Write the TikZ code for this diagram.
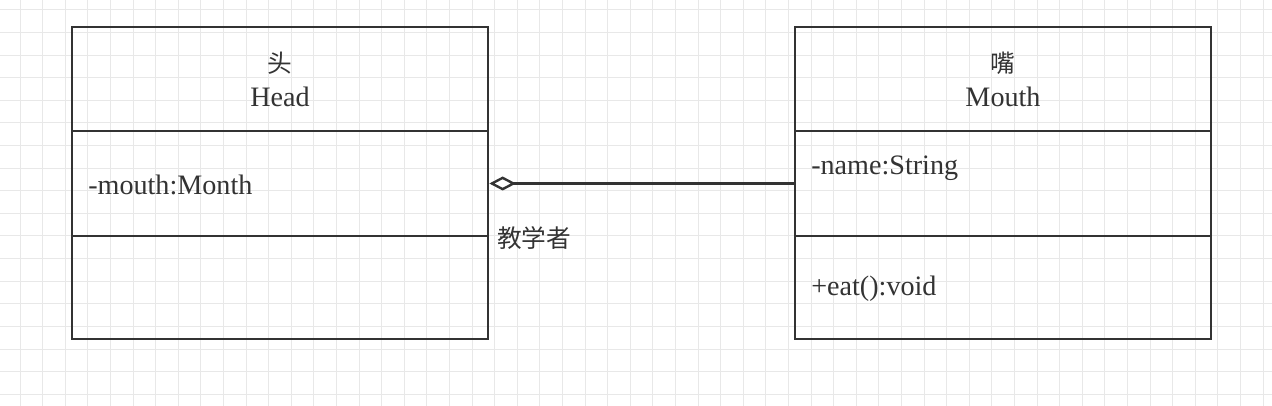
\documentclass[tikz,border=0pt]{standalone}
\usepackage{fontspec}
\setmainfont{Liberation Serif}
\newfontfamily\cjk{Noto Sans CJK SC}
\usetikzlibrary{positioning,arrows.meta}
\definecolor{umlgray}{HTML}{333333}
\definecolor{gridgray}{HTML}{E8E8E8}
\tikzset{
  compart/.style={draw=umlgray, line width=1.8pt, minimum width=312pt, outer sep=0pt, inner sep=0pt},
  member/.style={text=umlgray, font=\fontsize{21.1}{25}\selectfont, inner sep=0pt},
  cjkname/.style={text=umlgray, font=\cjk\fontsize{18.5}{22}\selectfont, inner sep=0pt},
  aggreg/.style={draw=umlgray, line width=1.8pt, {Diamond[open, length=20pt, width=10.5pt, line width=1.8pt]}-}
}
\begin{document}
\begin{tikzpicture}[x=0.75pt, y=-0.75pt]
    \useasboundingbox[fill=white] (0,0) rectangle (1272,406);
    % grid
    \foreach \gx in {0,...,55}
        \draw[gridgray, line width=0.75pt] ({20+22.6*\gx},0) -- ++(0,406);
    \foreach \gy in {0,...,17}
        \draw[gridgray, line width=0.75pt] (0,{10+22.6*\gy}) -- ++(1272,0);

    % Head
    \node[compart, minimum height=78pt] (headtitle) at (280,79) {};
    \node[compart, minimum height=78.75pt] (headattr) [below=0pt of headtitle] {};
    \node[compart, minimum height=77.25pt] (headops) [below=0pt of headattr] {};
    \node[cjkname] (headcn) at (280,63) {头};
    \node[member] (headen) at (280,97) {Head};
    \node[member, anchor=west] (headfield) at (88,185) {-mouth:Month};

    % Mouth
    \node[compart, minimum height=78pt] (mouthtitle) [right=230.25pt of headtitle] {};
    \node[compart, minimum height=78.75pt] (mouthattr) [below=0pt of mouthtitle] {};
    \node[compart, minimum height=77.25pt] (mouthops) [below=0pt of mouthattr] {};
    \node[cjkname] (mouthcn) at (1003,63) {嘴};
    \node[member] (mouthen) at (1003,97) {Mouth};
    \node[member, anchor=west] (mouthfield) at (811,168) {-name:String};
    \node[member, anchor=west] (mouthop) at (811,289) {+eat():void};

    % aggregation
    \draw[aggreg] ([xshift=1pt]headattr.east) -- (mouthattr.west);
    \node[cjkname, anchor=west] (rolename) at (497,238) {教学者};
\end{tikzpicture}
\end{document}
